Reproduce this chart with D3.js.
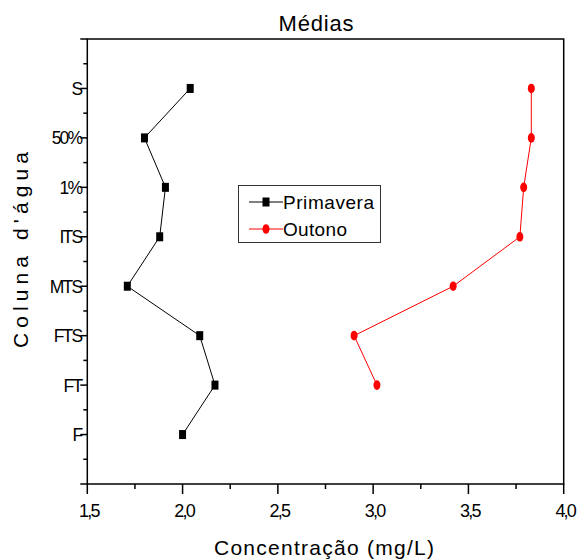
<!DOCTYPE html>
<html><head><meta charset="utf-8">
<script src="https://cdn.jsdelivr.net/npm/d3@7"></script>
<style>body{margin:0;background:#fff}svg{display:block}text{font-family:"Liberation Sans",Arial,sans-serif;fill:#000}</style>
</head><body>
<script>
const categories = ["F","FT","FTS","MTS","ITS","1%","50%","S"];
const primavera = [2.00, 2.17, 2.09, 1.71, 1.88, 1.91, 1.80, 2.04];
const outono = [null, 3.02, 2.90, 3.42, 3.77, 3.79, 3.83, 3.83];
const xTicks = [1.5, 2.0, 2.5, 3.0, 3.5, 4.0];
const xTickLabels = ["1,5","2,0","2,5","3,0","3,5","4,0"];
const seriesNames = ["Primavera","Outono"];

const W = 579, H = 560;
const svg = d3.select("body").append("svg").attr("width", W).attr("height", H);
const x = d3.scaleLinear().domain([1.5, 4.0]).range([87.3, 563.7]);
const y = d3.scaleLinear().domain([0, 9]).range([484, 39]);

// frame
svg.append("rect").attr("x", x(1.5)).attr("y", y(9)).attr("width", x(4) - x(1.5)).attr("height", y(0) - y(9))
  .attr("fill", "none").attr("stroke", "#000").attr("stroke-width", 1.5);

// x axis
const xMinor = d3.range(1.75, 4.0, 0.5);
const gx = svg.append("g").attr("transform", `translate(0,${y(0)})`);
gx.selectAll("line.maj").data(xTicks).join("line").attr("x1", d => x(d)).attr("x2", d => x(d)).attr("y1", 0).attr("y2", 10).attr("stroke", "#000").attr("stroke-width", 1.5);
gx.selectAll("line.min").data(xMinor).join("line").attr("x1", d => x(d)).attr("x2", d => x(d)).attr("y1", 0).attr("y2", 5).attr("stroke", "#000").attr("stroke-width", 1.5);
gx.selectAll("text").data(xTicks).join("text").attr("x", d => x(d) + 1.5).attr("y", 33).attr("text-anchor", "middle")
  .attr("font-size", 18).attr("letter-spacing", -1.8).text((d, i) => xTickLabels[i]);

// y axis
const yMajor = d3.range(0, 10);
const yMinor = d3.range(0.5, 9, 1);
const gy = svg.append("g").attr("transform", `translate(${x(1.5)},0)`);
gy.selectAll("line.maj").data(yMajor).join("line").attr("x1", -7).attr("x2", 0).attr("y1", d => y(d)).attr("y2", d => y(d)).attr("stroke", "#000").attr("stroke-width", 1.5);
gy.selectAll("line.min").data(yMinor).join("line").attr("x1", -4).attr("x2", 0).attr("y1", d => y(d)).attr("y2", d => y(d)).attr("stroke", "#000").attr("stroke-width", 1.5);
gy.selectAll("text").data(categories).join("text").attr("x", -6).attr("y", (d, i) => y(i + 1) + 6.5).attr("text-anchor", "end")
  .attr("font-size", 17.5).attr("letter-spacing", -1.8).text(d => d);

// titles
svg.append("text").attr("x", 316).attr("y", 31).attr("text-anchor", "middle").attr("font-size", 22)
  .attr("textLength", 75).attr("lengthAdjust", "spacing").text("Médias");
svg.append("text").attr("x", 324).attr("y", 555).attr("text-anchor", "middle").attr("font-size", 21)
  .attr("textLength", 220).attr("lengthAdjust", "spacing").text("Concentração (mg/L)");
svg.append("text").attr("transform", "translate(28,250) rotate(-90)").attr("text-anchor", "middle").attr("font-size", 21)
  .attr("textLength", 196).attr("lengthAdjust", "spacing").text("Coluna d'água");

// series
const pData = primavera.map((v, i) => ({v, i: i + 1}));
const oData = outono.map((v, i) => ({v, i: i + 1})).filter(d => d.v !== null);
const line = d3.line().x(d => x(d.v)).y(d => y(d.i));
svg.append("path").datum(pData).attr("d", line).attr("fill", "none").attr("stroke", "#000").attr("stroke-width", 1);
svg.append("path").datum(oData).attr("d", line).attr("fill", "none").attr("stroke", "#ff0000").attr("stroke-width", 1);
svg.selectAll("rect.pm").data(pData).join("rect").attr("class", "pm").attr("x", d => x(d.v) - 3.5).attr("y", d => y(d.i) - 4.5)
  .attr("width", 7).attr("height", 9).attr("fill", "#000");
svg.selectAll("ellipse.om").data(oData).join("ellipse").attr("class", "om").attr("cx", d => x(d.v)).attr("cy", d => y(d.i))
  .attr("rx", 3.5).attr("ry", 4.8).attr("fill", "#ff0000");

// legend
const lg = svg.append("g");
lg.append("rect").attr("x", 238.5).attr("y", 185.5).attr("width", 142).attr("height", 57).attr("fill", "#fff").attr("stroke", "#333").attr("stroke-width", 1);
const items = [{name: seriesNames[0], color: "#000", shape: "rect", yy: 202}, {name: seriesNames[1], color: "#ff0000", shape: "ellipse", yy: 229}];
items.forEach(it => {
  lg.append("line").attr("x1", 249).attr("x2", 283).attr("y1", it.yy).attr("y2", it.yy).attr("stroke", it.color).attr("stroke-width", 1);
  if (it.shape === "rect") lg.append("rect").attr("x", 266 - 3.5).attr("y", it.yy - 4.5).attr("width", 7).attr("height", 9).attr("fill", it.color);
  else lg.append("ellipse").attr("cx", 266).attr("cy", it.yy).attr("rx", 3.5).attr("ry", 4.8).attr("fill", it.color);
  lg.append("text").attr("x", 283).attr("y", it.yy + 7).attr("font-size", 19)
    .attr("textLength", it.name === "Primavera" ? 91 : 64).attr("lengthAdjust", "spacing").text(it.name);
});
</script>
</body></html>
